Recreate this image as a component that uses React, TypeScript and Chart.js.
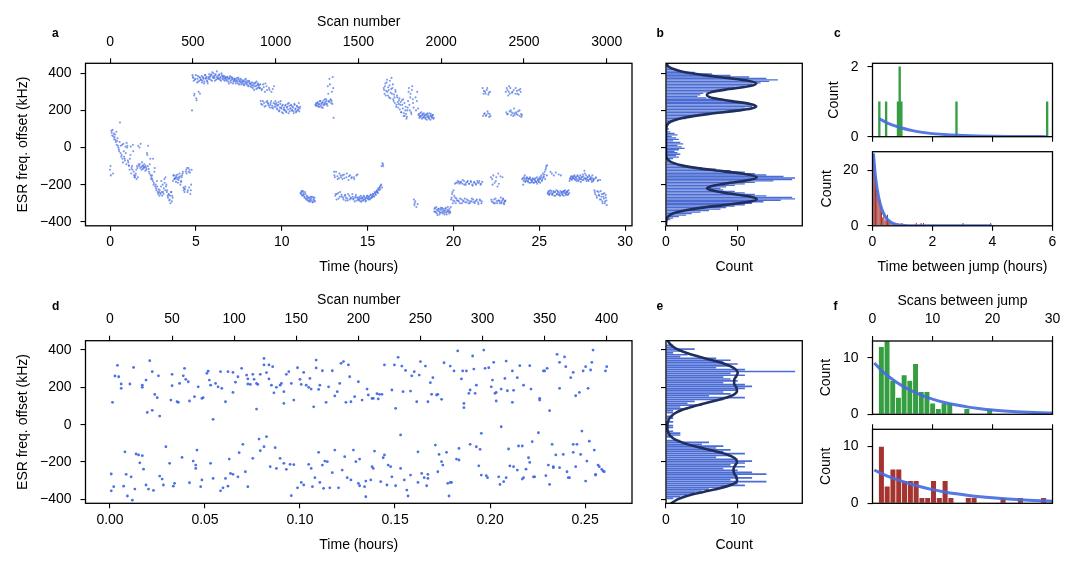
import { useEffect, useRef } from "react";
import { Chart, registerables } from "chart.js";

Chart.register(...registerables);

const W = 1081;
const H = 570;
const FONT_FAMILY = '"Liberation Sans", Arial, Helvetica, sans-serif';
Chart.defaults.font.family = FONT_FAMILY;
Chart.defaults.font.size = 14;
Chart.defaults.color = "#000";

// ---------------- data ----------------

// Long run (panel a): readings kept every 5 scans (two interleaved sets), 3000 scans ≈ 28.93 h
const HOURS_PER_SCAN_A = 28.93 / 3000;
const SCAN_STEP_A = 5;
const SCAN_OFFSET_MID_A = 3;
const esrLongRun: number[] = [
  -120, -150, 80, 95, 60, 45, 70, 30, 15, 50,
  0, -20, 135, 10, -40, -60, 20, -50, -70, -30,
  25, 10, -80, -100, -60, 5, -110, -120, -20, -150,
  -160, -140, -170, -110, 10, -100, -90, 20, -120, -100,
  -95, -110, -105, -100, -120, -40, 10, -130, -90, -150,
  -160, -170, -60, -190, -110, -200, -230, -210, -250, -240,
  -230, -250, -180, -260, -240, -220, -190, -160, -200, -230,
  -270, -250, -280, -300, -240, -260, -180, -150, -170, -160,
  -150, -170, -190, -160, -140, -200, -180, -150, -130, -230,
  -240, -210, -120, -110, -230, -130, -120, -250, -200, 200,
  380, 360, 290, 370, 265, 350, 385, 300, 360, 375,
  365, 350, 380, 370, 355, 390, 375, 360, 345, 380,
  370, 385, 395, 360, 380, 400, 375, 390, 365, 410,
  385, 370, 395, 375, 360, 390, 380, 365, 385, 370,
  375, 360, 380, 355, 370, 385, 350, 365, 375, 355,
  360, 370, 345, 365, 355, 375, 340, 360, 350, 365,
  345, 360, 335, 355, 370, 340, 350, 330, 360, 345,
  340, 325, 350, 335, 310, 345, 330, 355, 320, 340,
  335, 320, 250, 310, 230, 340, 240, 300, 225, 330,
  250, 235, 320, 215, 240, 300, 225, 210, 330, 235,
  220, 240, 205, 230, 195, 215, 250, 210, 225, 185,
  215, 200, 230, 190, 220, 205, 240, 195, 210, 225,
  200, 215, 185, 230, 210, 195, 220, 205, 240, 210,
  -245, -240, -260, -235, -255, -270, -250, -280, -265, -275,
  -285, -270, -290, -275, -265, -295, -280, -270, 230, 240,
  225, 245, 230, 220, 250, 235, 240, 215, 255, 230,
  245, 260, 235, 330, 250, 370, 255, 240, 300, 380,
  160, -150, -260, -130, -250, -170, -275, -140, -240, -160,
  -265, -150, -280, -165, -255, -270, -140, -285, -175, -260,
  -150, -275, -160, -265, -280, -170, -270, -255, -285, -145,
  -270, -285, -275, -260, -290, -270, -280, -265, -275, -285,
  -270, -260, -280, -265, -275, -255, -270, -260, -250, -265,
  -245, -255, -235, -240, -220, -230, -210, -205, -100, -85,
  -100, 310, 330, 280, 350, 300, 325, 270, 360, 295,
  375, 320, 260, 285, 240, 300, 230, 270, 215, 255,
  205, 245, 190, 230, 260, 185, 170, 220, 155, 200,
  250, 320, 200, 290, 180, 330, 240, -280, -300, 270,
  -320, 300, 210, 180, 170, 165, 190, 175, 160, 185,
  170, 155, 180, 165, 175, 160, 185, 150, 170, 165,
  175, 160, -330, -345, -320, -355, -340, -330, -360, -335,
  -350, -325, -345, -340, -360, -330, -350, -345, -320, -340,
  -330, -350, -280, -250, -300, -230, -290, -270, -190, -285,
  -180, -290, -195, -275, -185, -300, -175, -285, -200, -295,
  -190, -280, -180, -300, -195, -290, -185, -275, -205, -295,
  -185, -290, -200, -280, -190, -305, -180, -285, -195, -290,
  320, 290, 180, 300, 170, 310, 195, 285, 165, 300,
  -160, -290, -200, -150, -280, -300, -180, -290, -210, -140,
  -285, -300, -270, -295, -160, -280, -305, -290, 300, 320,
  310, 280, 330, 290, 200, 190, 300, 170, 210, 185,
  320, 180, 290, 195, 310, 170, 300, 165, -170, -200,
  -160, -150, -180, -175, -165, -185, -170, -160, -190, -175,
  -180, -170, -190, -175, -165, -185, -195, -170, -180, -160,
  -170, -150, -175, -140, -160, -130, -120, -100, -95, -250,
  -240, -250, -130, -235, -255, -245, -150, -240, -260, -230,
  -250, -240, -145, -255, -235, -245, -250, -240, -260, -235,
  -245, -250, -240, -255, -230, -180, -165, -155, -170, -160,
  -165, -150, -175, -160, -170, -155, -180, -165, -150, -170,
  -160, -145, -175, -125, -165, -150, -170, -160, -180, -155,
  -170, -160, -185, -165, -175, -230, -250, -160, -270, -180,
  -240, -260, -175, -280, -250, -300, -265, -245, -290, -270,
  -310,
];
const esrLongRunMid: number[] = [
  -100, 90, 65, -140, 75, 55, 40, 85, 35, 10,
  -10, 30, -30, -50, 15, -80, -20, -60, 5, -90,
  0, -70, -95, -120, -40, -140, -100, 15, -130, -160,
  -150, -120, -100, -160, -90, 0, -110, -105, -80, -115,
  -105, -90, -125, -110, -30, -100, -115, -140, -60, -170,
  -150, -180, -200, -130, -210, -220, -180, -240, -225, -260,
  -245, -210, -240, -200, -250, -170, -230, -210, -240, -260,
  -255, -285, -260, -240, -290, -270, -150, -170, -165, -185,
  -160, -145, -175, -165, -155, -185, -160, -140, -215, -220,
  -225, -130, -140, -240, -110, -215, -135, -230, -120, 390,
  375, 280, 365, 390, 255, 370, 355, 380, 290, 365,
  385, 360, 375, 345, 390, 370, 380, 355, 370, 395,
  380, 365, 390, 405, 375, 385, 360, 395, 380, 370,
  375, 390, 365, 380, 400, 370, 385, 375, 360, 380,
  365, 380, 370, 345, 375, 360, 380, 370, 345, 365,
  370, 355, 360, 375, 345, 365, 355, 370, 340, 355,
  355, 340, 365, 345, 350, 360, 335, 355, 345, 330,
  350, 335, 320, 345, 330, 350, 315, 335, 345, 325,
  320, 340, 235, 315, 250, 325, 220, 345, 245, 310,
  240, 225, 310, 230, 250, 215, 315, 240, 220, 250,
  230, 210, 225, 245, 200, 235, 215, 190, 230, 205,
  205, 225, 195, 215, 235, 185, 225, 210, 230, 200,
  220, 195, 235, 205, 190, 225, 200, 215, 195, 220,
  -250, -235, -255, -245, -265, -240, -275, -260, -285, -270,
  -290, -280, -265, -285, -295, -270, -285, -290, 225, 235,
  240, 220, 235, 250, 225, 215, 245, 230, 240, 260,
  235, 250, 225, 290, 245, 340, 260, 250, 235, 320,
  -130, -160, -250, -280, -155, -245, -165, -265, -150, -255,
  -170, -270, -145, -260, -285, -160, -275, -250, -155, -280,
  -270, -165, -250, -275, -160, -290, -265, -150, -270, -280,
  -280, -265, -290, -275, -270, -285, -260, -280, -290, -270,
  -260, -275, -265, -280, -255, -270, -265, -250, -260, -240,
  -250, -240, -230, -245, -225, -215, -225, -200, -215, -90,
  320, 290, 345, 305, 365, 280, 310, 335, 265, 315,
  290, 340, 250, 270, 310, 220, 280, 245, 235, 265,
  230, 190, 255, 210, 170, 240, 200, 180, 165, 215,
  300, 230, 270, 190, 310, 260, 215, -310, -290, 200,
  250, -305, 175, 160, 185, 170, 155, 180, 165, 175,
  160, 175, 150, 185, 165, 155, 170, 180, 160, 175,
  155, -345, -325, -350, -335, -365, -330, -345, -350, -325,
  -335, -355, -330, -350, -340, -325, -360, -335, -345, -355,
  -345, -320, -270, -240, -285, -260, -195, -300, -275, -190,
  -285, -185, -300, -190, -280, -195, -290, -180, -275, -200,
  -295, -185, -285, -195, -300, -180, -290, -200, -280, -190,
  -300, -195, -285, -180, -295, -190, -280, -200, -300, -185,
  170, 305, 185, 290, 175, 320, 185, 295, 180, 170,
  -280, -170, -295, -300, -190, -275, -160, -300, -285, -195,
  -290, -155, -300, -285, -275, -300, -290, -285, 190, 180,
  180, 300, 195, 320, 175, 295, 185, 310, 175, 290,
  190, 305, 175, 285, 200, 315, 180, 175, -165, -180,
  -170, -185, -165, -160, -180, -170, -190, -165, -175, -185,
  -165, -190, -170, -180, -185, -160, -175, -185, -170, -190,
  -160, -180, -165, -155, -145, -170, -110, -150, -245, -235,
  -255, -230, -245, -140, -250, -235, -260, -240, -135, -250,
  -235, -255, -245, -260, -150, -240, -255, -235, -245, -230,
  -255, -240, -235, -250, -245, -170, -160, -175, -155, -165,
  -155, -170, -160, -180, -150, -175, -160, -170, -185, -160,
  -175, -155, -165, -140, -170, -180, -160, -175, -150, -170,
  -165, -175, -150, -180, -170, -240, -165, -260, -235, -175,
  -255, -280, -235, -265, -290, -250, -275, -300, -255, -285,
];

// Histogram of the long run (panel b): 8 kHz bins starting at -396 kHz
const BIN_START_B = -396;
const BIN_WIDTH_B = 8;
const countsB: number[] = [
  1, 3, 5, 9, 14, 18, 24, 30, 38, 42,
  48, 55, 60, 68, 80, 90, 88, 70, 62, 55,
  48, 40, 38, 42, 48, 55, 62, 75, 88, 90,
  82, 70, 62, 55, 45, 35, 25, 16, 8, 4,
  2, 3, 5, 9, 7, 10, 8, 6, 9, 13,
  11, 8, 12, 10, 5, 9, 7, 4, 8, 6,
  3, 1, 2, 1, 1, 2, 3, 5, 8, 14,
  18, 22, 30, 40, 46, 50, 55, 60, 62, 58,
  52, 44, 35, 28, 22, 24, 26, 30, 38, 42,
  48, 55, 60, 66, 72, 78, 70, 58, 45, 32,
  20, 10, 6, 3, 1,
];
// Four-state fit over the long run: [kHz, count]
const fitB: [number, number][] = [
  [-420, 0], [-400, 0.1], [-385, 0.5], [-370, 1.6], [-355, 4.8], [-340, 12.1],
  [-325, 24.1], [-310, 40.3], [-295, 55.8], [-278, 63.3], [-263, 57.9], [-248, 44.6],
  [-233, 33.4], [-219, 28.5], [-205, 33.4], [-190, 44.6], [-175, 57.9], [-160, 63.3],
  [-140, 53], [-120, 31.2], [-100, 13.3], [-80, 4], [-60, 0.8], [-40, 0.1], [0, 0],
  [80, 0], [100, 0.1], [120, 0.7], [140, 3.4], [160, 12.1], [180, 29.1], [200, 51.4],
  [210, 59.4], [222, 63], [235, 58.7], [250, 45.8], [265, 33.5], [283, 28.5], [300, 32.5],
  [315, 43.9], [330, 57.6], [345, 63], [360, 57.2], [375, 42.4], [390, 26.5], [405, 13.3],
  [420, 6.3], [435, 1.9], [450, 0.5],
];

// Jump waiting times, long run (panel c): [hours, count]
const jumpsUpHours: [number, number][] = [
  [0.228, 1], [0.454, 1], [0.849, 1], [0.906, 2], [0.962, 1], [2.799, 1], [5.822, 1],
];
const jumpsDownHours: [number, number][] = [
  [0.02, 25], [0.06, 20], [0.1, 18], [0.14, 13], [0.18, 10], [0.22, 9], [0.26, 7],
  [0.3, 5], [0.34, 3], [0.38, 4], [0.42, 2], [0.46, 3], [0.5, 4], [0.54, 2], [0.58, 1],
  [0.62, 1], [0.7, 1], [0.98, 1], [1.46, 1], [1.62, 1], [1.7, 1], [3.02, 1], [3.94, 1],
];
const fitUpHours: [number, number][] = [
  [0.22, 0.52], [0.5, 0.39], [0.75, 0.31], [1, 0.24], [1.25, 0.19], [1.5, 0.145],
  [2, 0.088], [2.5, 0.053], [3, 0.032], [3.5, 0.019], [4, 0.012], [4.5, 0.007],
  [5, 0.004], [5.85, 0.002],
];
const fitDownHours: [number, number][] = [
  [0.03, 26], [0.1, 17.5], [0.2, 10.5], [0.3, 6.3], [0.4, 3.8], [0.5, 2.3], [0.6, 1.4],
  [0.7, 0.8], [0.8, 0.5], [1, 0.18], [1.25, 0.05], [1.5, 0.015], [2, 0.001], [3, 0], [3.97, 0],
];

// Short run (panel d): [scan, kHz], 400 scans ≈ 0.2614 h
const HOURS_PER_SCAN_D = 0.2614 / 400;
const shortRun: [number, number][] = [
  [2, 120], [4, 261], [6, 318], [7, 257], [9, 218], [9, 195], [16, 218], [19, 307], [26, 212],
  [26, 200], [29, 239], [30, 66], [32, 343], [34, 284], [34, 77], [36, 162], [38, 145],
  [39, 262], [40, 46], [49, 132], [50, 270], [50, 209], [54, 123], [55, 120], [56, 221],
  [59, 262], [60, 302], [61, 243], [63, 230], [64, 127], [68, 150], [71, 203], [74, 141],
  [75, 145], [78, 275], [79, 287], [80, 239], [81, 212], [83, 29], [85, 221], [87, 203],
  [89, 284], [90, 195], [93, 123], [95, 284], [99, 280], [99, 173], [101, 228], [103, 257],
  [106, 302], [110, 266], [111, 245], [111, 218], [113, 216], [115, 270], [116, 243],
  [118, 84], [118, 221], [119, 216], [121, 270], [124, 355], [124, 320], [126, 279],
  [128, 320], [128, 245], [130, 212], [131, 311], [132, 171], [134, 200], [137, 212],
  [138, 221], [140, 177], [140, 114], [142, 270], [144, 284], [146, 221], [148, 132],
  [151, 305], [153, 243], [154, 216], [156, 280], [158, 212], [160, 200], [161, 248],
  [162, 191], [164, 96], [166, 304], [166, 346], [168, 189], [169, 212], [171, 289],
  [174, 120], [176, 203], [179, 289], [181, 154], [183, 177], [185, 221], [186, 329],
  [188, 338], [190, 120], [192, 320], [193, 257], [194, 123], [197, 150], [200, 230],
  [203, 132], [207, 191], [208, 159], [211, 141], [212, 141], [215, 166], [216, 138],
  [217, 163], [219, 163], [221, 320], [227, 186], [229, 320], [230, 88], [232, 361],
  [235, 314], [236, 177], [238, 291], [242, 180], [243, 262], [245, 284], [247, 123],
  [249, 266], [250, 338], [254, 314], [256, 123], [258, 225], [259, 163], [260, 252],
  [263, 159], [264, 163], [267, 136], [269, 332], [274, 314], [277, 288], [280, 395],
  [283, 245], [284, 288], [285, 114], [285, 91], [287, 288], [289, 168], [290, 186],
  [292, 368], [293, 298], [294, 168], [295, 212], [301, 400], [302, 302], [305, 305],
  [307, 203], [308, 239], [309, 334], [310, 168], [311, 173], [311, 127], [315, 191],
  [319, 341], [318, 248], [320, 182], [324, 120], [324, 288], [325, 184], [328, 252],
  [330, 316], [333, 212], [338, 316], [339, 191], [346, 132], [346, 141], [349, 288],
  [350, 288], [352, 302], [354, 75], [360, 377], [362, 334], [362, 195], [366, 363],
  [367, 311], [371, 252], [373, 280], [375, 155], [378, 173], [381, 288], [383, 311],
  [385, 195], [387, 293], [388, 334], [389, 400], [399, 288], [400, 311],
  [1, -354], [1, -264], [3, -332], [11, -329], [12, -145], [13, -266], [14, -382],
  [17, -279], [18, -404], [20, -345], [21, -157], [23, -162], [24, -204], [26, -166],
  [27, -238], [29, -323], [31, -345], [35, -352], [40, -275], [42, -291], [43, -323],
  [45, -118], [48, -207], [51, -329], [52, -314], [58, -175], [64, -311], [67, -195],
  [69, -234], [69, -216], [70, -136], [73, -332], [74, -296], [81, -207], [83, -288],
  [89, -354], [91, -338], [93, -288], [95, -329], [96, -184], [97, -261], [99, -266],
  [103, -279], [104, -150], [107, -105], [109, -252], [111, -332], [115, -180], [120, -77],
  [121, -139], [124, -118], [126, -64], [129, -225], [133, -123], [134, -234], [137, -180],
  [140, -207], [142, -239], [145, -212], [146, -380], [148, -214], [151, -338], [154, -309],
  [156, -323], [160, -212], [162, -234], [163, -332], [165, -284], [168, -148], [169, -309],
  [171, -216], [172, -341], [173, -195], [175, -198], [177, -338], [179, -257], [181, -136],
  [184, -338], [187, -243], [189, -171], [191, -284], [194, -296], [196, -136], [198, -198],
  [200, -314], [201, -184], [201, -327], [205, -332], [206, -386], [206, -302], [210, -296],
  [211, -225], [212, -234], [213, -141], [218, -305], [220, -177], [221, -162], [223, -323],
  [224, -216], [226, -225], [227, -279], [230, -327], [234, -234], [234, -55], [237, -296],
  [239, -350], [240, -382], [242, -270], [248, -145], [248, -309], [251, -261], [253, -284],
  [255, -327], [256, -288], [256, -266], [262, -109], [264, -252], [265, -159], [267, -198],
  [268, -216], [271, -148], [272, -314], [274, -309], [273, -382], [275, -309], [279, -184],
  [281, -127], [281, -189], [290, -105], [295, -118], [297, -220], [298, -132], [299, -46],
  [299, -270], [303, -273], [304, -284], [313, -279], [314, -320], [315, -11], [317, -305],
  [319, -284], [321, -130], [322, -221], [325, -225], [328, -243], [329, -114], [332, -114],
  [332, -291], [333, -284], [335, -238], [337, -177], [338, -202], [340, -91], [341, -279],
  [342, -279], [345, -43], [351, -273], [353, -216], [354, -320], [357, -225], [357, -230],
  [356, -105], [359, -162], [362, -230], [365, -159], [368, -252], [369, -284], [370, -284],
  [373, -105], [373, -148], [375, -225], [376, -105], [379, -159], [380, -34], [383, -302],
  [384, -195], [386, -88], [390, -136], [391, -270], [391, -266], [393, -216], [394, -225],
  [396, -239], [397, -248], [398, -252],
];

// Histogram of the short run (panel e): 10 kHz bins starting at -395 kHz
const BIN_START_E = -395;
const BIN_WIDTH_E = 10;
const countsE: number[] = [
  1, 2, 3, 4, 5, 6, 8, 11, 10, 14,
  9, 12, 10, 14, 12, 10, 8, 11, 9, 11,
  12, 10, 7, 9, 11, 8, 9, 7, 8, 5,
  6, 2, 0, 1, 2, 2, 1, 0, 1, 1,
  0, 1, 0, 1, 1, 0, 1, 1, 3, 2,
  5, 3, 4, 8, 11, 6, 9, 8, 10, 11,
  12, 11, 8, 10, 9, 8, 11, 9, 18, 11,
  7, 9, 10, 8, 9, 7, 2, 3, 1, 2,
  4, 1, 1, 0,
];
const fitE: [number, number][] = [
  [-440, 0.3], [-420, 0.8], [-400, 1.6], [-380, 3], [-360, 5.2], [-340, 7.5], [-320, 9.2],
  [-300, 9.9], [-280, 9.8], [-260, 9.5], [-240, 9.4], [-220, 9.6], [-200, 9.9], [-180, 9.6],
  [-160, 8.5], [-140, 6.6], [-120, 4.4], [-100, 2.6], [-80, 1.3], [-60, 0.6], [-40, 0.3],
  [-20, 0.2], [0, 0.2], [20, 0.3], [40, 0.6], [60, 1.2], [80, 2.3], [100, 4], [120, 6],
  [140, 8], [160, 9.4], [180, 9.9], [200, 9.8], [220, 9.5], [240, 9.5], [260, 9.8],
  [280, 10], [300, 9.6], [320, 8.6], [340, 7], [360, 5], [380, 3.2], [400, 1.8], [420, 0.9],
  [440, 0.4], [460, 0.2],
];

// Scans between jumps, short run (panel f)
const SCAN_BIN_START_F = 1;
const SCAN_BIN_WIDTH_UP = 0.95;
const countsUpScans: number[] = [12, 13, 6, 3, 7, 6, 9, 4, 4, 2, 1, 2, 2, 0, 0, 1, 0, 0, 0, 1];
const SCAN_BIN_WIDTH_DOWN = 28 / 29;
const countsDownScans: number[] = [
  10, 3, 6, 6, 4, 4, 4, 1, 1, 4, 1, 4, 1, 0, 0, 1, 1, 0, 0, 0, 0, 1, 0, 0, 1, 0, 0, 0, 1,
];
const fitUpScans: [number, number][] = [
  [0.3, 9.1], [2, 7.3], [4, 5.7], [6, 4.45], [8, 3.46], [10, 2.7], [12, 2.1], [14, 1.64],
  [16, 1.27], [18, 0.99], [20, 0.77], [22, 0.6], [24, 0.47], [26, 0.36], [28, 0.28], [30, 0.22],
];
const fitDownScans: [number, number][] = [
  [0.3, 5.85], [2, 5], [4, 4.2], [6, 3.5], [8, 2.9], [10, 2.4], [12, 2], [14, 1.67],
  [16, 1.39], [18, 1.15], [20, 0.96], [22, 0.8], [24, 0.66], [26, 0.55], [28, 0.46], [30, 0.38],
];

// Tick values
const ESR_TICKS = [-400, -200, 0, 200, 400];
const TIME_TICKS_A = [0, 5, 10, 15, 20, 25, 30];
const SCAN_TICKS_A = [0, 500, 1000, 1500, 2000, 2500, 3000];
const COUNT_TICKS_B = [0, 50];
const HOUR_JUMP_TICKS = [0, 2, 4, 6];
const COUNT_TICKS_C_UP = [0, 2];
const COUNT_TICKS_C_DOWN = [0, 20];
const TIME_TICKS_D = [0, 0.05, 0.1, 0.15, 0.2, 0.25];
const SCAN_TICKS_D = [0, 50, 100, 150, 200, 250, 300, 350, 400];
const COUNT_TICKS_E = [0, 10];
const SCAN_JUMP_TICKS = [0, 10, 20, 30];
const COUNT_TICKS_F = [0, 10];

// ---------------- styling ----------------
const SCATTER_BLUE = "rgba(65,105,225,0.68)";
const DOT_BLUE = "rgba(65,105,225,0.95)";
const BAR_BLUE = "rgb(74,108,212)";
const NAVY = "rgb(32,46,92)";
const FIT_BLUE = "rgba(70,108,222,0.92)";
const GREEN = "rgb(52,158,64)";
const RED = "rgb(165,52,48)";

const fmtSigned = (v: number) => (v < 0 ? "\u2212" + Math.abs(v) : String(v));
const fmtFixed2 = (v: number) => v.toFixed(2);

type Area = { l: number; t: number; r: number; b: number };
const AREA: Record<string, Area> = {
  a: { l: 85.5, t: 63.3, r: 632, b: 225.8 },
  b: { l: 666, t: 63.3, r: 802.3, b: 225.8 },
  cUp: { l: 872.5, t: 63.3, r: 1052.5, b: 136.7 },
  cDown: { l: 872.5, t: 151.7, r: 1052.5, b: 225.8 },
  d: { l: 85.5, t: 340.7, r: 632, b: 503.3 },
  e: { l: 666, t: 340.7, r: 802.3, b: 503.3 },
  fUp: { l: 872.5, t: 341, r: 1052.5, b: 414.3 },
  fDown: { l: 872.5, t: 429.3, r: 1052.5, b: 503.3 },
};

type AxisSpec = {
  position: "left" | "bottom" | "top";
  min: number;
  max: number;
  ticks: number[];
  size: number;
  labels?: boolean;
  title?: string;
  fmt?: (v: number) => string;
  pad?: number;
};

function makeAxis(s: AxisSpec) {
  const horizontal = s.position !== "left";
  const fmt = s.fmt || fmtSigned;
  return {
    type: "linear",
    position: s.position,
    min: s.min,
    max: s.max,
    bounds: "data",
    offset: false,
    afterBuildTicks: (axis: any) => {
      axis.ticks = s.ticks.map((value) => ({ value }));
    },
    afterFit: (axis: any) => {
      if (horizontal) axis.height = s.size;
      else axis.width = s.size;
    },
    grid: {
      offset: false,
      drawOnChartArea: false,
      drawTicks: true,
      tickLength: 5,
      tickWidth: 1.1,
      tickColor: "#000",
      color: "#000",
      lineWidth: 1.1,
    },
    border: { display: false },
    ticks: {
      display: s.labels !== false,
      autoSkip: false,
      maxRotation: 0,
      minRotation: 0,
      padding: s.pad !== undefined ? s.pad : horizontal ? 3 : 9,
      color: "#000",
      font: { size: 14, family: FONT_FAMILY },
      callback: (v: any) => fmt(Number(v)),
    },
    title: s.title
      ? { display: true, text: s.title, padding: 0, color: "#000", font: { size: 14, family: FONT_FAMILY } }
      : { display: false },
  };
}

// Box drawn around each plotting area, above the marks
const framePlugin = {
  id: "frame",
  afterDatasetsDraw(chart: any) {
    const { ctx, chartArea: a } = chart;
    ctx.save();
    ctx.strokeStyle = "#000";
    ctx.lineWidth = 1.3;
    ctx.strokeRect(a.left, a.top, a.right - a.left, a.bottom - a.top);
    ctx.restore();
  },
};

// Bold panel letters
const lettersPlugin = {
  id: "letters",
  afterDraw(chart: any, _args: any, opts: any) {
    const { ctx } = chart;
    ctx.save();
    ctx.fillStyle = "#000";
    ctx.font = `bold 12px ${FONT_FAMILY}`;
    ctx.textBaseline = "alphabetic";
    ctx.textAlign = "left";
    (opts.items || []).forEach((it: any) => ctx.fillText(it.text, it.x, it.y));
    ctx.restore();
  },
};

function panel(
  area: Area,
  sizes: { left: number; top: number; bottom: number },
  scales: any,
  datasets: any[],
  extraOptions: any = {},
  letters: any[] = []
) {
  return {
    type: "bar",
    data: { datasets },
    options: {
      responsive: false,
      animation: false,
      devicePixelRatio: 1,
      events: [],
      layout: {
        padding: {
          left: area.l - sizes.left,
          right: W - area.r,
          top: area.t - sizes.top,
          bottom: H - area.b - sizes.bottom,
        },
      },
      plugins: {
        legend: { display: false },
        tooltip: { enabled: false },
        letters: { items: letters },
      },
      scales,
      ...extraOptions,
    },
    plugins: [framePlugin, lettersPlugin],
  };
}

const ESR_MIN = -421.5;
const ESR_MAX = 453.7;
const ESR_MIN_D = -421;
const ESR_MAX_D = 450;

function fitLine(points: { x: number; y: number }[], color: string, width: number) {
  return {
    type: "line",
    data: points,
    borderColor: color,
    borderWidth: width,
    pointRadius: 0,
    cubicInterpolationMode: "monotone",
    fill: false,
    order: 0,
  };
}

function histBars(points: { x: number; y: number }[], color: string, edge: boolean, pct = 1) {
  return {
    type: "bar",
    data: points,
    backgroundColor: color,
    borderColor: edge ? "rgba(255,255,255,0.85)" : color,
    borderWidth: edge ? 0.7 : 0,
    borderSkipped: "start",
    barPercentage: pct,
    categoryPercentage: 1,
    order: 1,
  };
}

function longRunPoints(values: number[], offset: number) {
  return values.map((v, i) => ({ x: (i * SCAN_STEP_A + offset) * HOURS_PER_SCAN_A, y: v }));
}

const configs: (() => any)[] = [
  // a: long run scatter
  () =>
    panel(
      AREA.a,
      { left: 70.6, top: 49.2, bottom: 49.3 },
      {
        x: makeAxis({ position: "bottom", min: -1.43, max: 30.4, ticks: TIME_TICKS_A, size: 49.3, title: "Time (hours)" }),
        x2: makeAxis({
          position: "top",
          min: -1.43 / HOURS_PER_SCAN_A,
          max: 30.4 / HOURS_PER_SCAN_A,
          ticks: SCAN_TICKS_A,
          size: 49.2,
          title: "Scan number",
          pad: 8,
        }),
        y: makeAxis({ position: "left", min: ESR_MIN, max: ESR_MAX, ticks: ESR_TICKS, size: 70.6, title: "ESR freq. offset (kHz)" }),
      },
      [
        {
          type: "scatter",
          data: [...longRunPoints(esrLongRun, 0), ...longRunPoints(esrLongRunMid, SCAN_OFFSET_MID_A)],
          pointRadius: 1.05,
          pointBorderWidth: 0,
          pointBackgroundColor: SCATTER_BLUE,
          showLine: false,
        },
      ],
      {},
      [
        { text: "a", x: 52, y: 36.7 },
        { text: "b", x: 656.5, y: 36.7 },
        { text: "c", x: 834, y: 36.7 },
      ]
    ),
  // b: histogram of the long run
  () =>
    panel(
      AREA.b,
      { left: 10, top: 0, bottom: 49.3 },
      {
        x: makeAxis({ position: "bottom", min: 0, max: 95.1, ticks: COUNT_TICKS_B, size: 49.3, title: "Count" }),
        y: makeAxis({ position: "left", min: ESR_MIN, max: ESR_MAX, ticks: ESR_TICKS, size: 10, labels: false }),
      },
      [
        fitLine(fitB.map(([k, c]) => ({ x: c, y: k })), NAVY, 2.6),
        histBars(countsB.map((c, i) => ({ x: c, y: BIN_START_B + i * BIN_WIDTH_B })), BAR_BLUE, false, 0.88),
      ],
      { indexAxis: "y" }
    ),
  // c (upper): waiting times, up-jumps
  () =>
    panel(
      AREA.cUp,
      { left: 46.9, top: 0, bottom: 10 },
      {
        x: makeAxis({ position: "bottom", min: 0, max: 6, ticks: HOUR_JUMP_TICKS, size: 10, labels: false }),
        y: makeAxis({ position: "left", min: 0, max: 2.1, ticks: COUNT_TICKS_C_UP, size: 46.9, title: "Count" }),
      },
      [
        fitLine(fitUpHours.map(([x, y]) => ({ x, y })), FIT_BLUE, 3),
        histBars(jumpsUpHours.map(([x, y]) => ({ x, y })), GREEN, false),
      ]
    ),
  // c (lower): waiting times, down-jumps
  () =>
    panel(
      AREA.cDown,
      { left: 53.9, top: 0, bottom: 50.1 },
      {
        x: makeAxis({ position: "bottom", min: 0, max: 6, ticks: HOUR_JUMP_TICKS, size: 50.1, title: "Time between jump (hours)" }),
        y: makeAxis({ position: "left", min: 0, max: 26.6, ticks: COUNT_TICKS_C_DOWN, size: 53.9, title: "Count" }),
      },
      [
        fitLine(fitDownHours.map(([x, y]) => ({ x, y })), FIT_BLUE, 3),
        histBars(jumpsDownHours.map(([x, y]) => ({ x, y })), RED, false, 0.85),
      ]
    ),
  // d: short run scatter
  () =>
    panel(
      AREA.d,
      { left: 70.6, top: 49.1, bottom: 50.1 },
      {
        x: makeAxis({ position: "bottom", min: -0.0129, max: 0.2747, ticks: TIME_TICKS_D, size: 50.1, title: "Time (hours)", fmt: fmtFixed2 }),
        x2: makeAxis({
          position: "top",
          min: -0.0129 / HOURS_PER_SCAN_D,
          max: 0.2747 / HOURS_PER_SCAN_D,
          ticks: SCAN_TICKS_D,
          size: 49.1,
          title: "Scan number",
          pad: 8,
        }),
        y: makeAxis({ position: "left", min: ESR_MIN_D, max: ESR_MAX_D, ticks: ESR_TICKS, size: 70.6, title: "ESR freq. offset (kHz)" }),
      },
      [
        {
          type: "scatter",
          data: shortRun.map(([s, v]) => ({ x: s * HOURS_PER_SCAN_D, y: v })),
          pointRadius: 1.4,
          pointBorderWidth: 0,
          pointBackgroundColor: DOT_BLUE,
          showLine: false,
        },
      ],
      {},
      [
        { text: "d", x: 52, y: 310 },
        { text: "e", x: 656.5, y: 310 },
        { text: "f", x: 833.5, y: 310 },
      ]
    ),
  // e: histogram of the short run
  () =>
    panel(
      AREA.e,
      { left: 10, top: 0, bottom: 50.1 },
      {
        x: makeAxis({ position: "bottom", min: 0, max: 19, ticks: COUNT_TICKS_E, size: 50.1, title: "Count" }),
        y: makeAxis({ position: "left", min: ESR_MIN_D, max: ESR_MAX_D, ticks: ESR_TICKS, size: 10, labels: false }),
      },
      [
        fitLine(fitE.map(([k, c]) => ({ x: c, y: k })), NAVY, 2.6),
        histBars(countsE.map((c, i) => ({ x: c, y: BIN_START_E + i * BIN_WIDTH_E })), BAR_BLUE, false, 0.88),
      ],
      { indexAxis: "y" }
    ),
  // f (upper): scans between up-jumps
  () =>
    panel(
      AREA.fUp,
      { left: 54.9, top: 48.4, bottom: 0 },
      {
        x: makeAxis({ position: "top", min: 0, max: 30, ticks: SCAN_JUMP_TICKS, size: 48.4, title: "Scans between jump", pad: 8 }),
        y: makeAxis({ position: "left", min: 0, max: 13, ticks: COUNT_TICKS_F, size: 54.9, title: "Count" }),
      },
      [
        fitLine(fitUpScans.map(([x, y]) => ({ x, y })), FIT_BLUE, 3),
        histBars(
          countsUpScans.map((c, i) => ({ x: SCAN_BIN_START_F + (i + 0.5) * SCAN_BIN_WIDTH_UP, y: c })),
          GREEN,
          true
        ),
      ]
    ),
  // f (lower): scans between down-jumps
  () =>
    panel(
      AREA.fDown,
      { left: 54.9, top: 10, bottom: 0 },
      {
        x: makeAxis({ position: "top", min: 0, max: 30, ticks: SCAN_JUMP_TICKS, size: 10, labels: false }),
        y: makeAxis({ position: "left", min: 0, max: 13, ticks: COUNT_TICKS_F, size: 54.9, title: "Count" }),
      },
      [
        fitLine(fitDownScans.map(([x, y]) => ({ x, y })), FIT_BLUE, 3),
        histBars(
          countsDownScans.map((c, i) => ({ x: SCAN_BIN_START_F + (i + 0.5) * SCAN_BIN_WIDTH_DOWN, y: c })),
          RED,
          true
        ),
      ]
    ),
];

function ChartLayer({ make }: { make: () => any }) {
  const ref = useRef<HTMLCanvasElement | null>(null);
  useEffect(() => {
    if (!ref.current) return;
    const chart = new Chart(ref.current, make());
    return () => chart.destroy();
  }, [make]);
  return (
    <canvas
      ref={ref}
      width={W}
      height={H}
      style={{ position: "absolute", left: 0, top: 0, width: W, height: H }}
    />
  );
}

export default function App() {
  return (
    <div style={{ position: "absolute", left: 0, top: 0, width: W, height: H, background: "#fff" }}>
      {configs.map((make, i) => (
        <ChartLayer key={i} make={make} />
      ))}
    </div>
  );
}
